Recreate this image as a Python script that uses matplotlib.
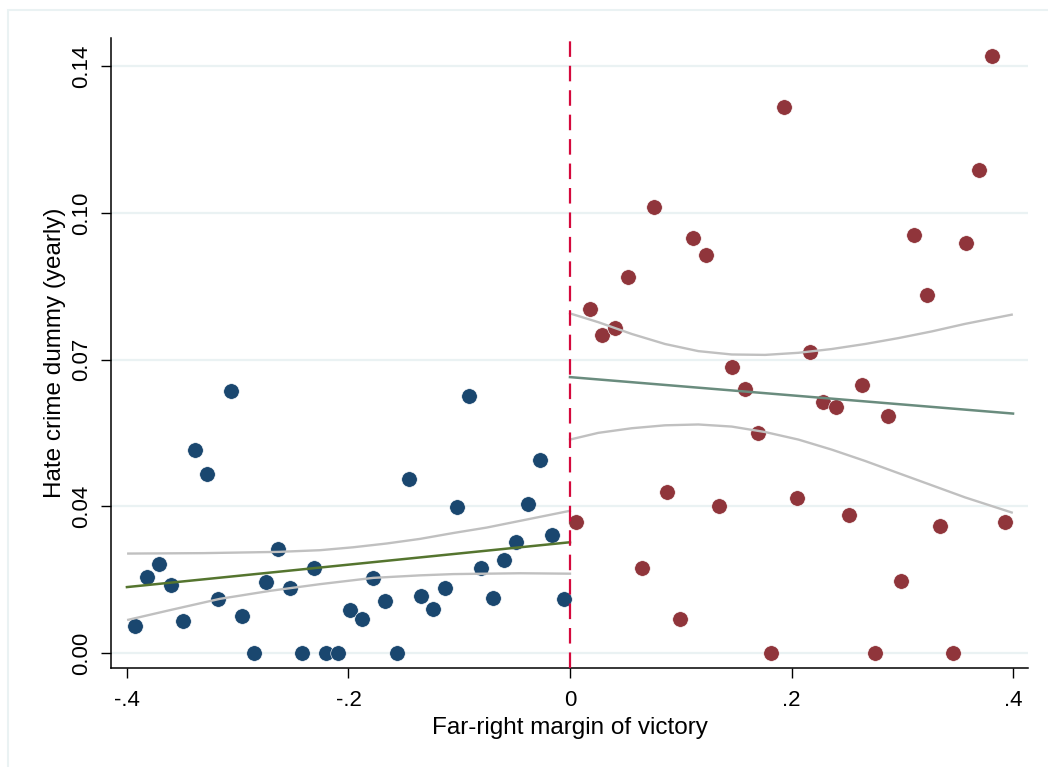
import numpy as np
import matplotlib as mpl

mpl.use("Agg")
import matplotlib.pyplot as plt
from matplotlib.patches import Rectangle

plt.rcParams["font.family"] = ["Liberation Sans", "DejaVu Sans"]

# binned means, left of the cutoff
left_x = [-0.3928, -0.3819, -0.3711, -0.3605, -0.3497, -0.3389, -0.3280, -0.3176,
          -0.3064, -0.2959, -0.2851, -0.2742, -0.2634, -0.2528, -0.2420, -0.2312,
          -0.2206, -0.2098, -0.1989, -0.1881, -0.1776, -0.1668, -0.1559, -0.1451,
          -0.1345, -0.1237, -0.1129, -0.1023, -0.0915, -0.0806, -0.0698, -0.0593,
          -0.0485, -0.0377, -0.0271, -0.0163, -0.0054]
left_y = [0.0065, 0.0180, 0.0211, 0.0163, 0.0076, 0.0483, 0.0426, 0.0128,
          0.0624, 0.0088, 0.0000, 0.0170, 0.0248, 0.0155, 0.0000, 0.0202,
          0.0000, 0.0000, 0.0102, 0.0082, 0.0179, 0.0125, 0.0000, 0.0416,
          0.0136, 0.0105, 0.0155, 0.0349, 0.0612, 0.0202, 0.0130, 0.0222,
          0.0265, 0.0356, 0.0461, 0.0281, 0.0129]

# binned means, right of the cutoff
right_x = [0.0057, 0.0178, 0.0292, 0.0409, 0.0526, 0.0647, 0.0761, 0.0879,
           0.0996, 0.1113, 0.1231, 0.1348, 0.1465, 0.1583, 0.1700, 0.1818,
           0.1935, 0.2052, 0.2170, 0.2287, 0.2404, 0.2522, 0.2639, 0.2757,
           0.2874, 0.2989, 0.3106, 0.3223, 0.3344, 0.3461, 0.3576, 0.3693,
           0.3810, 0.3930]
right_y = [0.0312, 0.0821, 0.0759, 0.0774, 0.0896, 0.0202, 0.1065, 0.0384,
           0.0082, 0.0989, 0.0950, 0.0351, 0.0681, 0.0629, 0.0525, 0.0000,
           0.1302, 0.0370, 0.0719, 0.0599, 0.0587, 0.0328, 0.0640, 0.0000,
           0.0565, 0.0172, 0.0998, 0.0855, 0.0303, 0.0000, 0.0979, 0.1152,
           0.1425, 0.0312]

# fitted lines
left_fit_x = [-0.40, 0.0]
left_fit_y = [0.0157, 0.0264]
right_fit_x = [0.0, 0.40]
right_fit_y = [0.0658, 0.0571]

# confidence bands
left_ci_x = [-0.3988, -0.3311, -0.2634, -0.2257, -0.1957, -0.1655, -0.1354,
             -0.1054, -0.0752, -0.0451, 0.0]
left_ci_hi = [0.0237, 0.0238, 0.0241, 0.0245, 0.0252, 0.0261, 0.0272,
              0.0286, 0.0299, 0.0315, 0.0339]
left_lo_x = [-0.3988, -0.3612, -0.3160, -0.2709, -0.2257, -0.1776, -0.1354,
             -0.1054, -0.0451, 0.0]
left_ci_lo = [0.0079, 0.0102, 0.0129, 0.0148, 0.0164, 0.0179, 0.0185,
              0.0188, 0.0190, 0.0189]

right_ci_x = [0.0, 0.0256, 0.0557, 0.0858, 0.1159, 0.1460, 0.1761, 0.2062,
              0.2363, 0.2664, 0.2964, 0.3266, 0.3567, 0.3988]
right_ci_hi = [0.0810, 0.0789, 0.0761, 0.0737, 0.0720, 0.0712, 0.0711, 0.0716,
               0.0725, 0.0737, 0.0751, 0.0767, 0.0785, 0.0807]
right_ci_lo = [0.0509, 0.0525, 0.0536, 0.0543, 0.0545, 0.0540, 0.0527, 0.0509,
               0.0485, 0.0458, 0.0429, 0.0400, 0.0371, 0.0335]

y_ticks = [0.0, 0.035, 0.07, 0.105, 0.14]
y_ticklabels = ["0.00", "0.04", "0.07", "0.10", "0.14"]
x_ticks = [-0.4, -0.2, 0.0, 0.2, 0.4]
x_ticklabels = ["-.4", "-.2", "0", ".2", ".4"]

fig = plt.figure(figsize=(10.48, 7.67), dpi=100)
fig.patches.append(
    Rectangle((8 / 1048, -0.1), 1.2, 1.1 - 10 / 767, transform=fig.transFigure,
              fill=False, edgecolor="#eaf2f3", lw=1.5)
)
ax = fig.add_axes([0.1059, 0.1291, 0.8750, 0.8213])

grid_c = "#eaf2f3"
for yt in y_ticks:
    ax.axhline(yt, color=grid_c, lw=1.6, zorder=0)

ax.scatter(left_x, left_y, s=125, color="#1a476f", edgecolor="white", lw=0.4, zorder=2)
ax.scatter(right_x, right_y, s=125, color="#90353b", edgecolor="white", lw=0.4, zorder=2)

ci_c = "#c0c0c0"
ax.plot(left_ci_x, left_ci_hi, color=ci_c, lw=1.7, zorder=3)
ax.plot(left_lo_x, left_ci_lo, color=ci_c, lw=1.7, zorder=3)
ax.plot(right_ci_x, right_ci_hi, color=ci_c, lw=1.7, zorder=3)
ax.plot(right_ci_x, right_ci_lo, color=ci_c, lw=1.7, zorder=3)

ax.plot(left_fit_x, left_fit_y, color="#55752f", lw=1.8, zorder=4)
ax.plot(right_fit_x, right_fit_y, color="#6a8c7e", lw=1.8, zorder=4)

ax.axvline(0, color="#d4093c", lw=1.6, linestyle=(0, (7, 4)), zorder=5)

ax.set_xlim(-0.4144, 0.4135)
ax.set_ylim(-0.0036, 0.1467)

for s in ["top", "right"]:
    ax.spines[s].set_visible(False)
for s in ["left", "bottom"]:
    ax.spines[s].set_linewidth(1.1)

ax.set_yticks(y_ticks)
ax.set_yticklabels(y_ticklabels, rotation=90, va="center", fontsize=16)
ax.set_xticks(x_ticks)
ax.set_xticklabels(x_ticklabels, fontsize=16)
ax.tick_params(length=7.5, width=1.0, pad=6)
ax.tick_params(axis="x", pad=8)

ax.set_xlabel("Far-right margin of victory", fontsize=17.5, labelpad=5)
ax.set_ylabel("Hate crime dummy (yearly)", fontsize=17.5, labelpad=4)

fig.savefig("out.png", dpi=100)
plt.close()
